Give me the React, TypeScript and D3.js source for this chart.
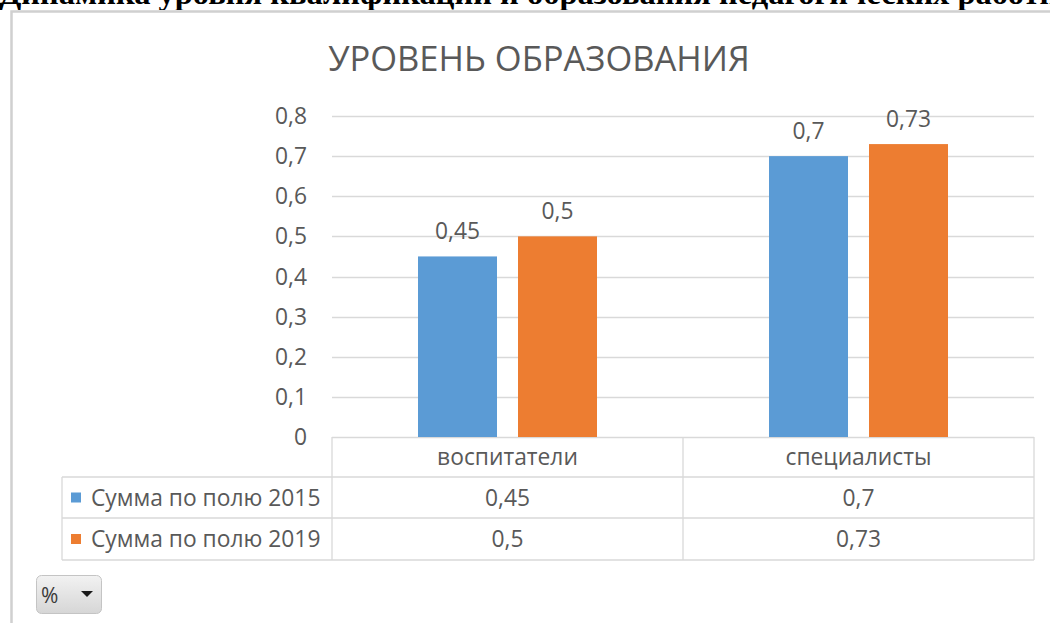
import React from "react";
import * as d3 from "d3";

const pageTitle = "Динамика уровня квалификации и образования педагогических работников";
const chartTitle = "УРОВЕНЬ ОБРАЗОВАНИЯ";
const categories = ["воспитатели", "специалисты"];
const seriesNames = ["Сумма по полю 2015", "Сумма по полю 2019"];
const series2015 = [0.45, 0.7];
const series2019 = [0.5, 0.73];
const seriesColors = ["#5b9bd5", "#ed7d31"];
const yTicks = [0, 0.1, 0.2, 0.3, 0.4, 0.5, 0.6, 0.7, 0.8];

const W = 1050;
const H = 623;
const FONT = "'Open Sans', 'Noto Sans', sans-serif";
const TXT = "#595959";
const GRID = "#d9d9d9";
const FS = 22.8;

const fmt = (v: number) => String(v).replace(".", ",");

export default function App() {
  const seriesValues = [series2015, series2019];
  const plotLeft = 332;
  const plotRight = 1034;
  const plotTop = 116;
  const plotBottom = 437;
  const legendLeft = 62;
  const rowH = [40, 41, 42];

  const y = d3.scaleLinear().domain([0, 0.8]).range([plotBottom, plotTop]);
  const x0 = d3.scaleBand<string>().domain(categories).range([plotLeft, plotRight]);
  const groupW = 179;
  const x1 = d3
    .scaleBand<string>()
    .domain(seriesNames)
    .range([(x0.bandwidth() - groupW) / 2, (x0.bandwidth() + groupW) / 2])
    .paddingInner(0.21);

  const row0 = plotBottom;
  const row1 = row0 + rowH[0];
  const row2 = row1 + rowH[1];
  const row3 = row2 + rowH[2];

  return (
    <svg
      width={W}
      height={H}
      style={{ position: "absolute", left: 0, top: 0, display: "block", background: "#fff" }}
    >
      <defs>
        <linearGradient id="btn" x1="0" y1="0" x2="0" y2="1">
          <stop offset="0" stopColor="#f2f2f2" />
          <stop offset="1" stopColor="#d6d6d6" />
        </linearGradient>
        <clipPath id="topclip">
          <rect x={0} y={0} width={W} height={10} />
        </clipPath>
      </defs>

      {/* page heading, cut off at the top as in the source */}
      <g clipPath="url(#topclip)">
        <text
          x={-1}
          y={4}
          fontFamily="'Liberation Serif', 'Times New Roman', serif"
          fontWeight="bold"
          fontSize={32.5}
          fill="#000"
        >
          {pageTitle}
        </text>
      </g>

      {/* chart frame */}
      <path d={`M11.5,${H} L11.5,11.5 L${W},11.5`} fill="none" stroke="#d0d0d0" strokeWidth={2.5} />

      {/* chart title */}
      <text x={539} y={71} textAnchor="middle" fontFamily={FONT} fontSize={34.5} fill={TXT}>
        {chartTitle}
      </text>

      {/* gridlines */}
      {yTicks.map((t) => (
        <line
          key={"g" + t}
          x1={plotLeft}
          x2={plotRight}
          y1={Math.round(y(t)) + 0.5}
          y2={Math.round(y(t)) + 0.5}
          stroke={GRID}
          strokeWidth={1.3}
        />
      ))}

      {/* y labels */}
      {yTicks.map((t) => (
        <text
          key={"l" + t}
          x={307}
          y={y(t) + 8}
          textAnchor="end"
          fontFamily={FONT}
          fontSize={FS}
          fill={TXT}
        >
          {fmt(t)}
        </text>
      ))}

      {/* bars */}
      {categories.map((c, ci) => (
        <g key={c} transform={`translate(${x0(c)},0)`}>
          {seriesNames.map((s, si) => {
            const v = seriesValues[si][ci];
            const bx = x1(s)!;
            return (
              <g key={s}>
                <rect
                  x={bx}
                  y={y(v)}
                  width={x1.bandwidth()}
                  height={plotBottom - y(v)}
                  fill={seriesColors[si]}
                />
                <text
                  x={bx + x1.bandwidth() / 2}
                  y={y(v) - 17}
                  textAnchor="middle"
                  fontFamily={FONT}
                  fontSize={FS}
                  fill={TXT}
                >
                  {fmt(v)}
                </text>
              </g>
            );
          })}
        </g>
      ))}

      {/* data table */}
      <g fill="none" stroke={GRID} strokeWidth={1.3}>
        <line x1={plotLeft} x2={plotLeft} y1={row0} y2={row3} />
        <line x1={plotRight} x2={plotRight} y1={row0} y2={row3} />
        <line x1={x0(categories[1])} x2={x0(categories[1])} y1={row0} y2={row3} />
        <line x1={legendLeft} x2={legendLeft} y1={row1} y2={row3} />
        <line x1={legendLeft} x2={plotRight} y1={row1} y2={row1} />
        <line x1={legendLeft} x2={plotRight} y1={row2} y2={row2} />
        <line x1={legendLeft} x2={plotRight} y1={row3} y2={row3} />
      </g>
      {categories.map((c) => (
        <text
          key={"c" + c}
          x={x0(c)! + x0.bandwidth() / 2}
          y={row0 + 28}
          textAnchor="middle"
          fontFamily={FONT}
          fontSize={FS}
          fill={TXT}
        >
          {c}
        </text>
      ))}
      {seriesNames.map((s, si) => {
        const ry = si === 0 ? row1 : row2;
        const rh = si === 0 ? rowH[1] : rowH[2];
        return (
          <g key={"r" + s}>
            <rect x={71} y={ry + rh / 2 - 5} width={10} height={10} fill={seriesColors[si]} />
            <text x={91} y={ry + rh / 2 + 8} fontFamily={FONT} fontSize={FS} fill={TXT}>
              {s}
            </text>
            {categories.map((c, ci) => (
              <text
                key={c}
                x={x0(c)! + x0.bandwidth() / 2}
                y={ry + rh / 2 + 8}
                textAnchor="middle"
                fontFamily={FONT}
                fontSize={FS}
                fill={TXT}
              >
                {fmt(seriesValues[si][ci])}
              </text>
            ))}
          </g>
        );
      })}

      {/* field button */}
      <rect x={36.5} y={575.5} width={65} height={38} rx={5} fill="url(#btn)" stroke="#c4c4c4" />
      <text x={41} y={603} fontFamily={FONT} fontSize={21} fill="#3a3a3a">
        %
      </text>
      <path d="M81,591 L93,591 L87,597 Z" fill="#1a1a1a" />
    </svg>
  );
}
